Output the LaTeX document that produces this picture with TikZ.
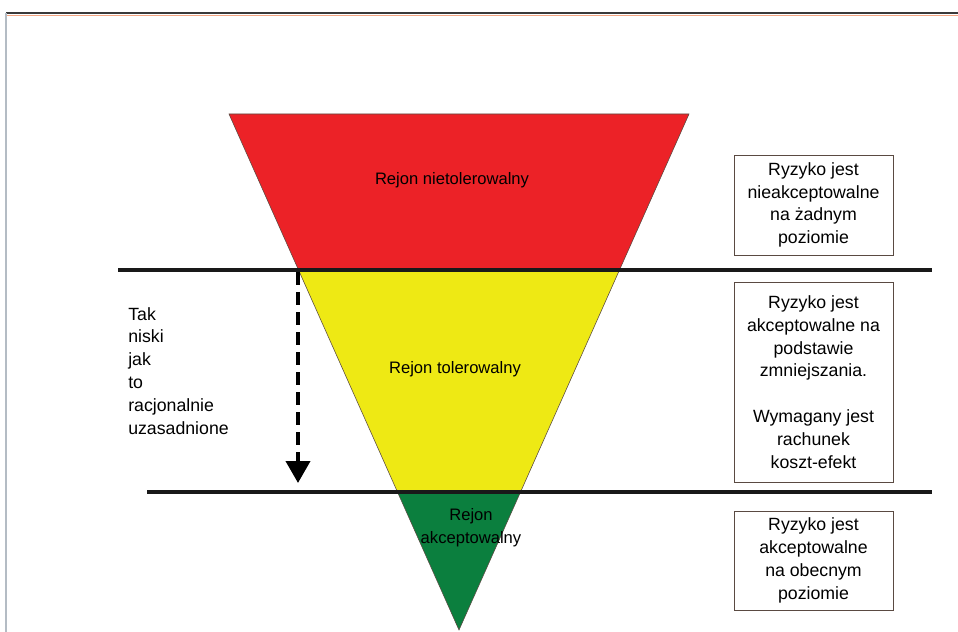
\documentclass[tikz,border=0pt]{standalone}
\usepackage{fontspec}
\setmainfont{Liberation Sans}
\usepackage{tikz}
\usetikzlibrary{arrows.meta, calc}
\definecolor{rjred}{HTML}{EC2227}
\definecolor{rjyellow}{HTML}{EEE914}
\definecolor{rjgreen}{HTML}{0B7F3E}
\definecolor{rjedge}{HTML}{5A4A42}
\definecolor{rjframe}{HTML}{3A3A3A}
\definecolor{rjorange}{HTML}{F4A582}
\definecolor{rjside}{HTML}{B4BCC4}

\begin{document}
\begin{tikzpicture}[
    x=0.25mm, y=-0.25mm,
    txt/.style={font=\fontsize{11.8}{16.2}\selectfont, align=center, inner sep=0pt},
    riskbox/.style={rectangle, draw=rjedge, line width=0.5pt, fill=white, minimum width=39.75mm, minimum height=#1, font=\fontsize{12.6}{16.2}\selectfont, align=center},
    band/.style={line width=1mm, color=black!90},
    arrow/.style={-{Triangle[width=6mm, length=5.5mm]}, line width=1mm, dash pattern=on 3.25mm off 1.75mm}
]
\useasboundingbox (0,0) rectangle (958,632);

% Frame
\draw[rjorange, line width=0.3mm] (7,15.5) -- (958,15.5);
\draw[rjframe, line width=0.5mm] (6,13.5) -- (958,13.5);
\draw[rjside, line width=0.5mm] (6,13) -- (6,632);

% Regions of the triangle
\coordinate (tl) at (229,114);
\coordinate (tr) at (689,114);
\coordinate (apex) at (459,630);
\fill[rjred] (tl) -- (tr) -- (619.5,270) -- (298.5,270) -- cycle;
\fill[rjyellow] (298.5,270) -- (619.5,270) -- (520.5,492) -- (397.5,492) -- cycle;
\fill[rjgreen] (397.5,492) -- (520.5,492) -- (apex) -- cycle;
\draw[rjedge, line width=0.4pt] (tl) -- (tr) -- (apex) -- cycle;

% Boundaries
\coordinate (upL) at (118,270);
\coordinate (upR) at (932,270);
\coordinate (loL) at (147,492);
\coordinate (loR) at (932,492);
\draw[band] (upL) -- (upR);
\draw[band] (loL) -- (loR);

% Region labels
\node[txt] (nietol) at (452,180) {Rejon nietolerowalny};
\node[txt] (tol) at (455,369) {Rejon tolerowalny};
\node[txt] (akc) at (471,528) {Rejon\\akceptowalny};

% ALARP arrow
\coordinate (arrTop) at (298,272);
\coordinate (arrEnd) at (298,483);
\draw[arrow] (arrTop) -- (arrEnd);
\node[txt, font=\fontsize{12.6}{16.3}\selectfont, align=left, anchor=west] (alarp) at (128,371) {Tak\\niski\\jak\\to\\racjonalnie\\uzasadnione};

% Descriptions
\node[riskbox=25mm] (box1) at (813.5,205) {Ryzyko jest\\nieakceptowalne\\na żadnym\\poziomie};
\node[riskbox=50mm] (box2) at (813.5,382) {Ryzyko jest\\akceptowalne na\\podstawie\\zmniejszania.\\[16.2pt]Wymagany jest\\rachunek\\koszt-efekt};
\node[riskbox=24.75mm] (box3) at (813.5,560.5) {Ryzyko jest\\akceptowalne\\na obecnym\\poziomie};

\end{tikzpicture}
\end{document}
